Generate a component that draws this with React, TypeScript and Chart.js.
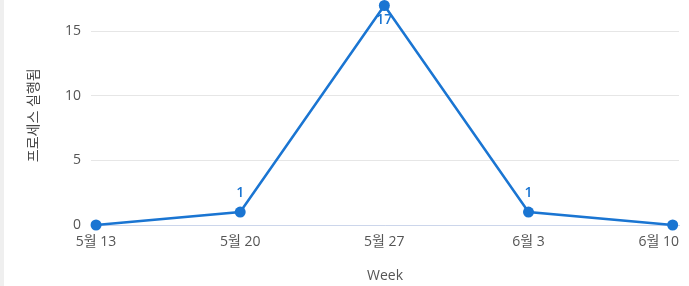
import React, { useEffect, useRef } from "react";
import { Chart, registerables } from "chart.js";

Chart.register(...registerables);

const categories: string[] = ["5월 13", "5월 20", "5월 27", "6월 3", "6월 10"];
const values: number[] = [0, 1, 17, 1, 0];
const yTicks: number[] = [0, 5, 10, 15];
const yTitle = "프로세스 실행됨";
const xTitle = "Week";

const FONT = "'Open Sans', 'Noto Sans CJK KR', sans-serif";
const BLUE = "#1a75d2";

const labelPlugin = {
  id: "pointLabels",
  afterDatasetsDraw(chart: any) {
    const ctx = chart.ctx;
    const meta = chart.getDatasetMeta(0);
    ctx.save();
    ctx.font = `600 14px ${FONT}`;
    ctx.fillStyle = BLUE;
    ctx.textAlign = "center";
    ctx.textBaseline = "middle";
    meta.data.forEach((pt: any, i: number) => {
      const v = values[i];
      if (!v) return;
      let y = pt.y - 19;
      if (y < chart.chartArea.top + 6) y = pt.y + 15;
      ctx.fillText(String(v), pt.x, y);
    });
    // x category labels, kept inside the plot's right edge
    ctx.font = `14px ${FONT}`;
    ctx.fillStyle = "#555";
    ctx.textBaseline = "top";
    const xs = chart.scales.x;
    const right = chart.chartArea.right;
    categories.forEach((c, i) => {
      const px = xs.getPixelForValue(i);
      const w = ctx.measureText(c).width;
      let cx = px;
      if (cx + w / 2 > right) cx = right - w / 2;
      ctx.textAlign = "center";
      ctx.fillText(c, cx, chart.chartArea.bottom + 10);
    });
    ctx.restore();
  },
};

export default function App() {
  const ref = useRef<HTMLCanvasElement>(null);
  useEffect(() => {
    if (!ref.current) return;
    const chart = new Chart(ref.current, {
      type: "line",
      data: {
        datasets: [
          {
            data: values.map((v, i) => ({ x: i, y: v })),
            borderColor: BLUE,
            backgroundColor: BLUE,
            borderWidth: 2.5,
            pointRadius: 5.5,
            pointBorderWidth: 0,
            pointBackgroundColor: BLUE,
            tension: 0,
            clip: false as any,
          },
        ],
      },
      plugins: [labelPlugin],
      options: {
        animation: false,
        responsive: false,
        maintainAspectRatio: false,
        layout: { padding: { left: 0, right: 10, top: 5, bottom: 0 } },
        plugins: { legend: { display: false }, tooltip: { enabled: false } },
        scales: {
          x: {
            type: "linear",
            min: -0.035,
            max: 4.044,
            afterFit: (s: any) => {
              s.height = 61;
              s.paddingLeft = 0;
              s.paddingRight = 0;
            },
            afterBuildTicks: (s: any) => {
              s.ticks = categories.map((_, i) => ({ value: i }));
            },
            grid: { display: false, drawTicks: false },
            border: { display: true, color: "#ccd6eb", width: 1 },
            ticks: {
              padding: 10,
              autoSkip: false,
              maxRotation: 0,
              color: "rgba(0,0,0,0)",
              font: { family: FONT, size: 14 },
              callback: (v: any) => categories[v as number] ?? "",
            },
            title: {
              display: true,
              text: xTitle,
              color: "#555",
              font: { family: FONT, size: 14 },
              padding: { top: 0, bottom: 2 },
            },
          },
          y: {
            min: 0,
            max: 17,
            afterFit: (s: any) => {
              s.width = 91;
              s.paddingTop = 0;
              s.paddingBottom = 0;
            },
            afterBuildTicks: (s: any) => {
              s.ticks = yTicks.map((v) => ({ value: v }));
            },
            grid: { color: "#e6e6e6", lineWidth: 1, drawTicks: false },
            border: { display: false },
            ticks: {
              padding: 10,
              color: "#555",
              font: { family: FONT, size: 14 },
            },
            title: {
              display: true,
              text: yTitle,
              color: "#444",
              font: { family: FONT, size: 14 },
              padding: { top: 26, bottom: 0 },
            },
          },
        },
      },
    });
    return () => chart.destroy();
  }, []);
  return (
    <div style={{ position: "fixed", left: 0, top: 0, width: 689, height: 286, background: "#fff" }}>
      <div style={{ position: "absolute", left: 0, top: 0, width: 4, height: 286, background: "#efefef" }} />
      <canvas ref={ref} width={689} height={286} style={{ position: "absolute", left: 0, top: 0 }} />
    </div>
  );
}
